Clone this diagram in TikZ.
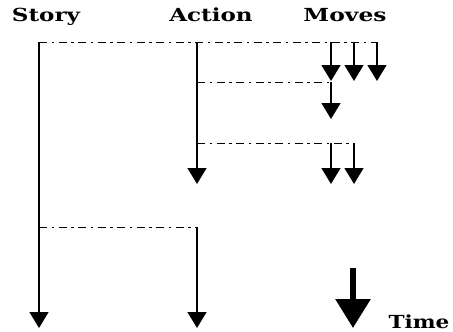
\documentclass[tikz,border=0pt]{standalone}
\usepackage{fontspec}
\usepackage{graphicx}
\setmainfont{DejaVu Serif}
\usetikzlibrary{arrows.meta}
\begin{document}
\begin{tikzpicture}[x=1pt,y=-1pt,
  lbl/.style={anchor=base,inner sep=0pt,font=\fontsize{18}{21}\selectfont\bfseries},
  tl/.style={line width=1.5pt,-{Triangle[width=19pt,length=16pt]}},
  dd/.style={line width=1pt,dash pattern=on 8pt off 4.5pt on 2.5pt off 4.5pt},
  big/.style={line width=6pt,-{Triangle[width=34pt,length=29pt]}}]
\useasboundingbox (0,0) rectangle (453,332);
\node[lbl] (story) at (46,21) {\scalebox{1.28}[1]{Story}};
\node[lbl] (action) at (211,21) {\scalebox{1.28}[1]{Action}};
\node[lbl] (moves) at (345,21) {\scalebox{1.3}[1]{Moves}};
\node[lbl] (time) at (419,328) {\scalebox{1.2}[1]{Time}};
% coordinates
\coordinate (s0) at (39,42);
\coordinate (s1) at (39,227);
\coordinate (s2) at (39,328);
\coordinate (a0) at (197,42);
\coordinate (a1) at (197,82);
\coordinate (a2) at (197,143);
\coordinate (a3) at (197,184);
\coordinate (b0) at (197,227);
\coordinate (b1) at (197,328);
\coordinate (m1) at (331,42);
\coordinate (m2) at (354,42);
\coordinate (m3) at (377,42);
\coordinate (m1e) at (331,81);
\coordinate (m2e) at (354,81);
\coordinate (m3e) at (377,81);
\coordinate (n0) at (331,82);
\coordinate (n1) at (331,119);
\coordinate (p1) at (331,143);
\coordinate (p2) at (354,143);
\coordinate (p1e) at (331,184);
\coordinate (p2e) at (354,184);
\coordinate (t0) at (353,268);
\coordinate (t1) at (353,328);
% dash-dot links
\draw[dd] (s0) -- (m3);
\draw[dd] (a1) -- (n0);
\draw[dd] (a2) -- (p2);
\draw[dd] (s1) -- (b0);
% timelines
\draw[tl] (s0) -- (s2);
\draw[tl] (a0) -- (a3);
\draw[tl] (b0) -- (b1);
\draw[tl] (m1) -- (m1e);
\draw[tl] (m2) -- (m2e);
\draw[tl] (m3) -- (m3e);
\draw[tl] (n0) -- (n1);
\draw[tl] (p1) -- (p1e);
\draw[tl] (p2) -- (p2e);
\draw[big] (t0) -- (t1);
\end{tikzpicture}
\end{document}
